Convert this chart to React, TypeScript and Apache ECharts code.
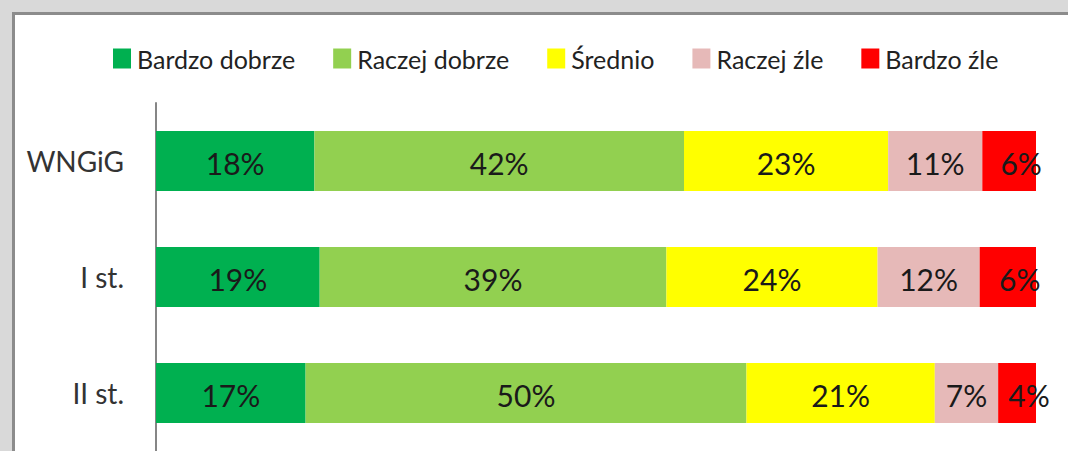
import React, { useEffect, useRef } from "react";
import * as echarts from "echarts";

const categories = ["WNGiG", "I st.", "II st."];
const seriesNames = ["Bardzo dobrze", "Raczej dobrze", "Średnio", "Raczej źle", "Bardzo źle"];
const seriesColors = ["#00B050", "#92D050", "#FFFF00", "#E6B9B8", "#FF0000"];
const bardzoDobrze = [18.0, 18.6, 17.0];
const raczejDobrze = [42.0, 39.4, 50.1];
const srednio = [23.2, 24.0, 21.4];
const raczejZle = [10.7, 11.6, 7.2];
const bardzoZle = [6.1, 6.4, 4.3];
const seriesValues = [bardzoDobrze, raczejDobrze, srednio, raczejZle, bardzoZle];

const FONT = "Lato, 'Open Sans', sans-serif";

export default function App() {
  const ref = useRef<HTMLDivElement>(null);
  useEffect(() => {
    if (!ref.current) return;
    const chart = echarts.init(ref.current, undefined, { renderer: "svg" });
    chart.setOption({
      animation: false,
      backgroundColor: "#ffffff",
      textStyle: { fontFamily: FONT },
      graphic: [
        { type: "rect", silent: true, shape: { x: 0, y: 0, width: 1068, height: 12 }, style: { fill: "#d9d9d9" } },
        { type: "rect", silent: true, shape: { x: 0, y: 0, width: 12, height: 451 }, style: { fill: "#d9d9d9" } },
        {
          type: "polyline",
          silent: true,
          shape: { points: [[13.5, 451], [13.5, 13.5], [1068, 13.5]] },
          style: { stroke: "#8c8c8c", lineWidth: 3, fill: "none" },
        },
      ],
      legend: {
        left: 108,
        top: 41,
        itemWidth: 18,
        itemHeight: 20,
        itemGap: 38,
        icon: "rect",
        textStyle: { fontFamily: FONT, fontSize: 25, color: "#222222", padding: [0, 0, 0, 1] },
        data: seriesNames,
      },
      grid: { left: 156, right: 32, top: 103, height: 352, containLabel: false },
      xAxis: { type: "value", min: 0, max: 100, show: false },
      yAxis: {
        type: "category",
        inverse: true,
        data: categories,
        axisTick: { show: false },
        axisLine: { show: true, lineStyle: { color: "#868686", width: 2 } },
        axisLabel: { fontFamily: FONT, fontSize: 28, color: "#333333", margin: 32 },
        splitLine: { show: false },
      },
      series: seriesNames.map((name, i) => ({
        name,
        type: "bar",
        stack: "total",
        barWidth: 60,
        itemStyle: { color: seriesColors[i] },
        data: seriesValues[i],
        label: {
          show: true,
          position: "inside",
          offset: i === 4 ? [12, 2] : [0, 2],
          fontFamily: FONT,
          fontSize: 30,
          color: "#1a1a1a",
          formatter: (p: any) => Math.round(p.value) + "%",
        },
      })),
    });
    return () => chart.dispose();
  }, []);
  return (
    <div
      ref={ref}
      style={{ position: "absolute", left: 0, top: 0, width: 1068, height: 451 }}
    />
  );
}
